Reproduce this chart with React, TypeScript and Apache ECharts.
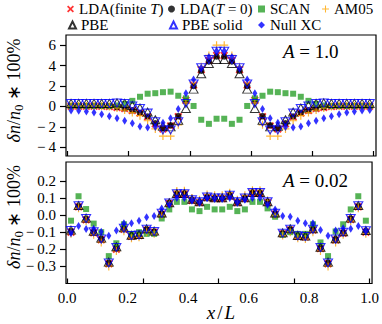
import React, { useEffect, useRef } from "react";
import * as echarts from "echarts";

const FONT = "serif";

const xPos = [0.0125, 0.0375, 0.0625, 0.0875, 0.1125, 0.1375, 0.1625, 0.1875, 0.2125, 0.2375, 0.2625, 0.2875, 0.3125, 0.3375, 0.3625, 0.3875, 0.4125, 0.4375, 0.4625, 0.4875, 0.5125, 0.5375, 0.5625, 0.5875, 0.6125, 0.6375, 0.6625, 0.6875, 0.7125, 0.7375, 0.7625, 0.7875, 0.8125, 0.8375, 0.8625, 0.8875, 0.9125, 0.9375, 0.9625, 0.9875];

// Top panel, A = 1.0
const topLdaFinite = [0.02, 0.02, 0.02, 0.02, 0.02, 0.0, -0.1, -0.2, -0.4, -0.65, -1.0, -1.7, -2.2, -1.9, -1.0, 0.6, 2.1, 3.6, 4.5, 5.0, 5.0, 4.5, 3.6, 2.1, 0.6, -1.0, -1.9, -2.2, -1.7, -1.0, -0.65, -0.4, -0.2, -0.1, 0.0, 0.02, 0.02, 0.02, 0.02, 0.02];
const topLdaT0 = [0.05, 0.05, 0.05, 0.05, 0.05, 0.02, -0.08, -0.2, -0.38, -0.62, -0.98, -1.65, -2.15, -1.85, -0.95, 0.55, 2.0, 3.5, 4.4, 4.9, 4.9, 4.4, 3.5, 2.0, 0.55, -0.95, -1.85, -2.15, -1.65, -0.98, -0.62, -0.38, -0.2, -0.08, 0.02, 0.05, 0.05, 0.05, 0.05, 0.05];
const topScan = [0.05, 0.05, 0.05, 0.05, 0.05, 0.05, 0.1, 0.25, 0.55, 0.95, 1.25, 1.3, 1.4, 1.45, 1.05, 0.8, 0.05, -1.3, -1.7, -1.2, -1.2, -1.7, -1.3, 0.05, 0.8, 1.05, 1.45, 1.4, 1.3, 1.25, 0.95, 0.55, 0.25, 0.1, 0.05, 0.05, 0.05, 0.05, 0.05, 0.05];
const topAm05 = [0.05, 0.05, 0.05, 0.05, 0.05, 0.0, -0.15, -0.35, -0.6, -0.9, -1.4, -2.2, -2.9, -2.9, -1.8, 0.35, 2.3, 3.9, 5.0, 6.0, 6.0, 5.0, 3.9, 2.3, 0.35, -1.8, -2.9, -2.9, -2.2, -1.4, -0.9, -0.6, -0.35, -0.15, 0.0, 0.05, 0.05, 0.05, 0.05, 0.05];
const topPbe = [0.3, 0.3, 0.3, 0.3, 0.3, 0.3, 0.35, 0.3, 0.1, -0.15, -0.55, -1.3, -1.95, -2.0, -1.35, -0.2, 1.7, 3.2, 4.2, 4.6, 4.6, 4.2, 3.2, 1.7, -0.2, -1.35, -2.0, -1.95, -1.3, -0.55, -0.15, 0.1, 0.3, 0.35, 0.3, 0.3, 0.3, 0.3, 0.3, 0.3];
const topPbeSolid = [0.3, 0.3, 0.3, 0.3, 0.3, 0.3, 0.35, 0.3, 0.05, -0.2, -0.65, -1.5, -2.3, -2.3, -1.5, 0.3, 2.2, 3.8, 4.6, 5.4, 5.4, 4.6, 3.8, 2.2, 0.3, -1.5, -2.3, -2.3, -1.5, -0.65, -0.2, 0.05, 0.3, 0.35, 0.3, 0.3, 0.3, 0.3, 0.3, 0.3];
const topNull = [-0.4, -0.42, -0.5, -0.6, -0.75, -0.95, -1.15, -1.4, -1.65, -1.95, -2.05, -2.0, -1.6, -1.15, -0.25, 1.3, 2.65, 3.8, 4.85, 5.45, 5.45, 4.85, 3.8, 2.65, 1.3, -0.25, -1.15, -1.6, -2.0, -2.05, -1.95, -1.65, -1.4, -1.15, -0.95, -0.75, -0.6, -0.5, -0.4, -0.35];

// Bottom panel, A = 0.02
const botLdaFinite = [-0.1, 0.048, -0.028, -0.104, -0.145, -0.285, -0.2, -0.083, -0.124, -0.12, -0.088, -0.1, 0.005, 0.068, 0.12, 0.122, 0.085, 0.073, 0.102, 0.096, 0.096, 0.112, 0.073, 0.096, 0.128, 0.126, 0.073, 0.005, -0.11, -0.088, -0.124, -0.128, -0.088, -0.196, -0.285, -0.146, -0.106, -0.026, 0.048, -0.1];
const botLdaT0 = [-0.095, 0.05, -0.025, -0.1, -0.14, -0.28, -0.195, -0.08, -0.12, -0.118, -0.085, -0.098, 0.008, 0.07, 0.122, 0.124, 0.088, 0.075, 0.104, 0.098, 0.098, 0.114, 0.075, 0.098, 0.13, 0.128, 0.075, 0.008, -0.108, -0.085, -0.122, -0.126, -0.085, -0.192, -0.28, -0.142, -0.102, -0.022, 0.05, -0.095];
const botScan = [-0.033, 0.11, 0.035, -0.05, -0.1, -0.24, -0.165, -0.054, -0.11, -0.1, -0.11, -0.11, -0.02, 0.033, 0.077, 0.077, 0.033, 0.023, 0.048, 0.033, 0.033, 0.048, 0.023, 0.033, 0.077, 0.077, 0.039, -0.01, -0.116, -0.1, -0.11, -0.11, -0.054, -0.16, -0.24, -0.096, -0.054, 0.033, 0.11, -0.033];
const botAm05 = [-0.11, 0.04, -0.035, -0.115, -0.16, -0.3, -0.21, -0.095, -0.135, -0.13, -0.1, -0.11, 0.0, 0.075, 0.14, 0.142, 0.1, 0.09, 0.12, 0.115, 0.115, 0.13, 0.09, 0.115, 0.145, 0.145, 0.085, 0.0, -0.12, -0.1, -0.135, -0.14, -0.1, -0.21, -0.3, -0.16, -0.115, -0.035, 0.04, -0.11];
const botPbe = [-0.088, 0.056, -0.018, -0.095, -0.135, -0.275, -0.185, -0.075, -0.118, -0.114, -0.08, -0.094, 0.012, 0.072, 0.126, 0.126, 0.092, 0.078, 0.107, 0.101, 0.101, 0.117, 0.078, 0.101, 0.132, 0.132, 0.078, 0.012, -0.104, -0.08, -0.119, -0.123, -0.08, -0.188, -0.275, -0.138, -0.098, -0.018, 0.056, -0.09];
const botPbeSolid = [-0.09, 0.054, -0.02, -0.097, -0.14, -0.28, -0.19, -0.077, -0.12, -0.116, -0.083, -0.096, 0.01, 0.071, 0.125, 0.125, 0.09, 0.077, 0.106, 0.1, 0.1, 0.116, 0.077, 0.1, 0.131, 0.131, 0.077, 0.01, -0.106, -0.083, -0.121, -0.125, -0.083, -0.19, -0.28, -0.14, -0.1, -0.02, 0.054, -0.092];
const botNull = [-0.106, -0.064, -0.081, -0.08, -0.097, -0.121, -0.091, -0.048, -0.048, -0.033, -0.013, -0.006, 0.039, 0.06, 0.1, 0.1, 0.09, 0.08, 0.1, 0.1, 0.1, 0.1, 0.08, 0.09, 0.1, 0.1, 0.06, 0.033, -0.006, -0.01, -0.033, -0.048, -0.048, -0.087, -0.121, -0.091, -0.077, -0.08, -0.064, -0.09];

const xLabelTicks = [0, 0.2, 0.4, 0.6, 0.8, 1.0];
const xTicksTop = [0, 0.2, 0.4, 0.6, 0.8, 1.0];
const xTicksBottom = [0, 0.25, 0.5, 0.75, 1.0];
const yTicksTop = [-4, -2, 0, 2, 4, 6];
const yTicksBottom = [-0.3, -0.2, -0.1, 0.0, 0.1, 0.2];

const NAMES = ["LDA(finite T)", "LDA(T = 0)", "SCAN", "AM05", "PBE", "PBE solid", "Null XC"];

const X_PATH = "path://M-4,-2.6 L-2.6,-4 L0,-1.4 L2.6,-4 L4,-2.6 L1.4,0 L4,2.6 L2.6,4 L0,1.4 L-2.6,4 L-4,2.6 L-1.4,0 Z";
const PLUS_PATH = "path://M-0.6,-4 L0.6,-4 L0.6,-0.6 L4,-0.6 L4,0.6 L0.6,0.6 L0.6,4 L-0.6,4 L-0.6,0.6 L-4,0.6 L-4,-0.6 L-0.6,-0.6 Z";

const styles: any[] = [
  { symbol: X_PATH, symbolSize: 8, itemStyle: { color: "#ff0000" } },
  { symbol: "circle", symbolSize: 6.5, itemStyle: { color: "#000000" } },
  { symbol: "rect", symbolSize: 6, itemStyle: { color: "#2ca02c" } },
  { symbol: PLUS_PATH, symbolSize: 8, itemStyle: { color: "#ffa500" } },
  { symbol: "triangle", symbolSize: [9, 8], itemStyle: { color: "rgba(0,0,0,0)", borderColor: "#000000", borderWidth: 1 } },
  { symbol: "triangle", symbolSize: [9, 8], symbolRotate: 180, itemStyle: { color: "rgba(0,0,0,0)", borderColor: "#0000ff", borderWidth: 1.1 } },
  { symbol: "diamond", symbolSize: [5, 8], itemStyle: { color: "#0000ff" } },
];

const topData = [topLdaFinite, topLdaT0, topScan, topAm05, topPbe, topPbeSolid, topNull];
const botData = [botLdaFinite, botLdaT0, botScan, botAm05, botPbe, botPbeSolid, botNull];

function fmtNum(v: number, digits: number) {
  const s = Math.abs(v).toFixed(digits);
  return v < -1e-9 ? "\u2212\u2009" + s : s;
}

function legendFormatter(name: string) {
  if (name === "LDA(finite T)") return "LDA(finite {it|T})";
  if (name === "LDA(T = 0)") return "LDA({it|T} = 0)";
  return name;
}

export default function App() {
  const ref = useRef<HTMLDivElement>(null);
  useEffect(() => {
    document.body.style.margin = "0";
    const chart = echarts.init(ref.current!, undefined, { renderer: "svg" });
    const series: any[] = [];
    NAMES.forEach((name, i) => {
      series.push({
        type: "scatter", name, xAxisIndex: 0, yAxisIndex: 0,
        data: xPos.map((x, k) => [x, topData[i][k]]),
        ...styles[i], emphasis: { disabled: true },
      });
    });
    NAMES.forEach((name, i) => {
      series.push({
        type: "scatter", name, xAxisIndex: 1, yAxisIndex: 1,
        data: xPos.map((x, k) => [x, botData[i][k]]),
        ...styles[i], emphasis: { disabled: true },
      });
    });

    const legendPos = [
      { left: 67, top: 1 }, { left: 168, top: 1 }, { left: 258, top: 1 }, { left: 322, top: 1 },
      { left: 68, top: 17 }, { left: 169, top: 17 }, { left: 258, top: 17 },
    ];
    const legends = NAMES.map((name, i) => ({
      data: [name], ...legendPos[i], padding: 0, itemWidth: 7, itemHeight: 7, itemGap: 0,
      selectedMode: false, formatter: legendFormatter,
      textStyle: {
        fontFamily: FONT, fontSize: 15, color: "#000", lineHeight: 16,
        rich: { it: { fontFamily: FONT, fontSize: 15, fontStyle: "italic", color: "#000", lineHeight: 16 } },
      },
    }));

    const axisLabelCommon = { fontFamily: FONT, fontSize: 15, color: "#000" };
    const gridCommon = { left: 66, width: 310, show: true, borderColor: "#000", borderWidth: 1.2, backgroundColor: "rgba(0,0,0,0)" };

    const ylabelRich = {
      i: { fontFamily: FONT, fontSize: 18, fontStyle: "italic", fill: "#000", lineHeight: 22 },
      r: { fontFamily: FONT, fontSize: 18, fill: "#000", lineHeight: 22 },
      s: { fontFamily: FONT, fontSize: 13, fill: "#000", lineHeight: 14, verticalAlign: "bottom" },
    };
    const ylabelText = "{i|\u03b4n}{r|/}{i|n}{s|0}{r| \u2217 100%}";
    const annRich = {
      i: { fontFamily: FONT, fontSize: 19, fontStyle: "italic", fill: "#000" },
      r: { fontFamily: FONT, fontSize: 19, fill: "#000" },
    };
    const noLine = { show: false, onZero: false };

    chart.setOption({
      animation: false,
      textStyle: { fontFamily: FONT },
      grid: [
        { ...gridCommon, top: 35, height: 121 },
        { ...gridCommon, top: 162, height: 121.5 },
      ],
      xAxis: [
        {
          gridIndex: 0, type: "value", min: -0.004, max: 1.008,
          axisLine: noLine, splitLine: { show: false },
          axisTick: { show: true, inside: true, length: 5, customValues: xTicksTop, lineStyle: { color: "#000", width: 1.2 } },
          axisLabel: { show: false },
        },
        {
          gridIndex: 1, type: "value", min: -0.004, max: 1.008,
          axisLine: noLine, splitLine: { show: false },
          axisTick: { show: true, inside: true, length: 5, customValues: xTicksBottom, lineStyle: { color: "#000", width: 1.2 } },
          axisLabel: { show: true, customValues: xLabelTicks, margin: 7, formatter: (v: number) => fmtNum(v, 1), ...axisLabelCommon },
        },
      ],
      yAxis: [
        {
          gridIndex: 0, type: "value", min: -4.85, max: 7.0,
          axisLine: noLine, splitLine: { show: false },
          axisTick: { show: true, inside: false, length: 6, customValues: yTicksTop, lineStyle: { color: "#000", width: 1.2 } },
          axisLabel: { show: true, customValues: yTicksTop, margin: 10, formatter: (v: number) => fmtNum(v, 0), ...axisLabelCommon },
        },
        {
          gridIndex: 1, type: "value", min: -0.4, max: 0.31,
          axisLine: noLine, splitLine: { show: false },
          axisTick: { show: true, inside: false, length: 6, customValues: yTicksBottom, lineStyle: { color: "#000", width: 1.2 } },
          axisLabel: { show: true, customValues: yTicksBottom, margin: 10, formatter: (v: number) => fmtNum(v, 1), ...axisLabelCommon },
        },
      ],
      legend: legends,
      graphic: [
        { type: "text", x: 14, y: 90.5, rotation: Math.PI / 2, style: { text: ylabelText, rich: ylabelRich, align: "center", verticalAlign: "middle", fontFamily: FONT, fontSize: 18, fill: "#000" } },
        { type: "text", x: 14, y: 217, rotation: Math.PI / 2, style: { text: ylabelText, rich: ylabelRich, align: "center", verticalAlign: "middle", fontFamily: FONT, fontSize: 18, fill: "#000" } },
        { type: "text", x: 283, y: 51, style: { text: "{i|A}{r| = 1.0}", rich: annRich, align: "left", verticalAlign: "middle", fontFamily: FONT, fontSize: 19, fill: "#000" } },
        { type: "text", x: 283, y: 180, style: { text: "{i|A}{r| = 0.02}", rich: annRich, align: "left", verticalAlign: "middle", fontFamily: FONT, fontSize: 19, fill: "#000" } },
        { type: "text", x: 221, y: 312, style: { text: "{i|x}{r|/}{i|L}", rich: { i: annRich.i, r: { ...annRich.r, padding: [0, 2, 0, 2] } }, align: "center", verticalAlign: "middle", fontFamily: FONT, fontSize: 19, fill: "#000" } },
      ],
      series,
    });
    return () => chart.dispose();
  }, []);
  return <div ref={ref} style={{ position: "absolute", left: 0, top: 0, width: 382, height: 324 }} />;
}
